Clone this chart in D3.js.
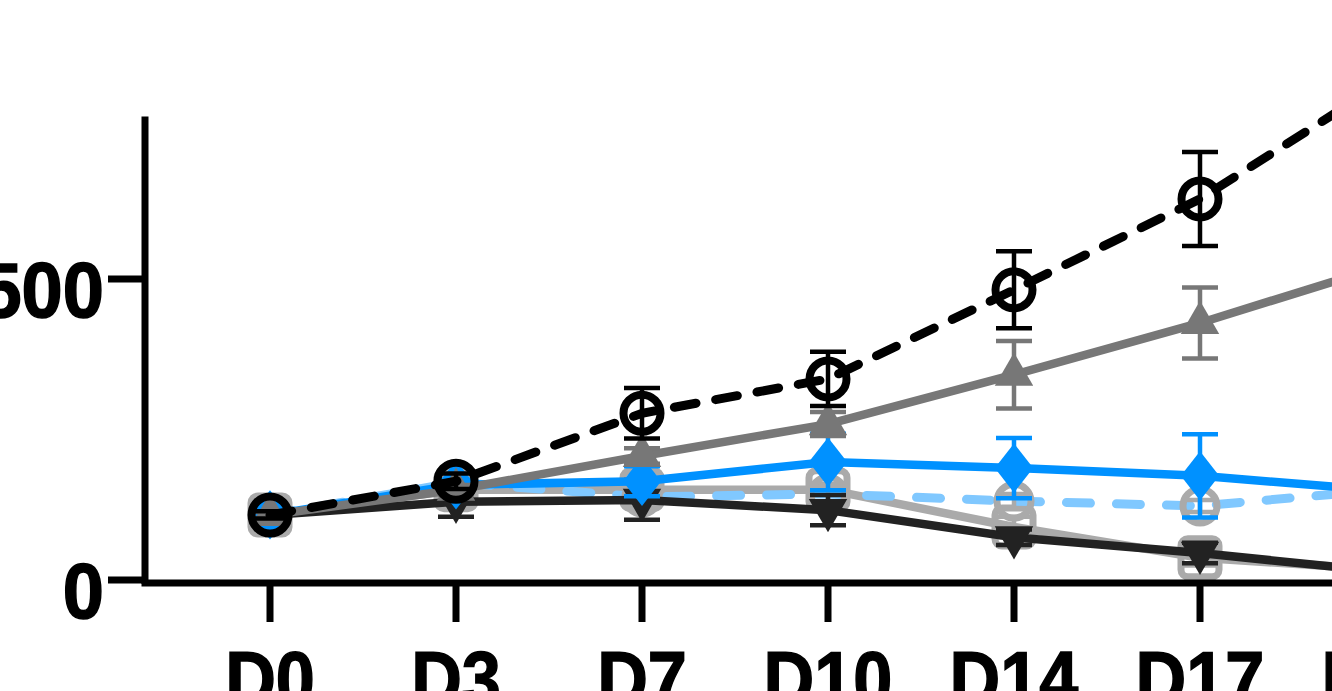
<!DOCTYPE html>
<html><head><meta charset="utf-8">
<script src="https://cdn.jsdelivr.net/npm/d3@7/dist/d3.min.js"></script>
<style>html,body{margin:0;padding:0;background:#fff;overflow:hidden}</style>
</head><body><svg id="c" width="1332" height="691"></svg>
<script>
const days = ["D0","D3","D7","D10","D14","D17","D21"];
const yTicks = [0, 500];
// series values (mean) and error (half-width)
const blackCircle = [108,164,277,334,482,633,829];
const blackCircleErr = [6,13,42,45,64,78,90];
const grayTriangle = [108,150,206,259,341,427,523];
const grayTriangleErr = [5,8,13,20,56,59,66];
const blueDiamond = [108,158,164,196,186,173,148];
const blueDiamondErr = [5,8,25,47,50,69,75];
const lightSquare = [108,150,150,150,88,37,17];
const lightSquareErr = [5,6,8,10,17,13,10];
const grayCircle = [108,162,138,143,131,123,150];
const grayCircleErr = [5,8,10,12,12,10,12];
const darkTriangle = [108,130,133,116,71,45,13];
const darkTriangleErr = [5,25,33,25,13,17,10];

const svg = d3.select("#c");
const x = d3.scalePoint().domain(days).range([270, 1386]);
const y = d3.scaleLinear().domain([0, 770]).range([580, 580 - 770*0.602]);

const series = [
  {v:lightSquare, e:lightSquareErr, line:"#aaaaaa", mk:"#aaaaaa", sym:"square", dash:null, ec:"#aaaaaa"},
  {v:grayCircle, e:grayCircleErr, line:"#80c8ff", mk:"#aaaaaa", sym:"circleOpen", dash:"24,26", ec:"#aaaaaa"},
  {v:darkTriangle, e:darkTriangleErr, line:"#222222", mk:"#222222", sym:"triDown", dash:null, ec:"#222222"},
  {v:blueDiamond, e:blueDiamondErr, line:"#0091ff", mk:"#0091ff", sym:"diamond", dash:null, ec:"#0091ff"},
  {v:grayTriangle, e:grayTriangleErr, line:"#777777", mk:"#777777", sym:"triUp", dash:null, ec:"#777777"},
  {v:blackCircle, e:blackCircleErr, line:"#000000", mk:"#000000", sym:"circleOpenBlack", dash:"22,20", ec:"#000000"}
];

const g = svg.append("g");
series.forEach(s => {
  const pts = days.map((d,i)=>({d, v:s.v[i], e:s.e[i]}));
  g.append("path").datum(pts)
    .attr("d", d3.line().x(p=>x(p.d)).y(p=>y(p.v)))
    .attr("fill","none").attr("stroke", s.line).attr("stroke-width", s.dash?9:8.5)
    .attr("stroke-linecap", s.dash?"round":"butt")
    .attr("stroke-dasharray", s.dash);
  const eb = g.append("g").attr("stroke", s.ec).attr("stroke-width",4.5).attr("fill","none");
  pts.forEach(p=>{
    const cx = x(p.d), t = y(p.v+p.e), b = y(p.v-p.e);
    eb.append("line").attr("x1",cx).attr("x2",cx).attr("y1",t).attr("y2",b);
    eb.append("line").attr("x1",cx-18).attr("x2",cx+18).attr("y1",t).attr("y2",t);
    eb.append("line").attr("x1",cx-18).attr("x2",cx+18).attr("y1",b).attr("y2",b);
  });
  const mg = g.append("g");
  pts.forEach(p=>{
    const cx = x(p.d), cy = y(p.v);
    if (s.sym==="square") {
      mg.append("rect").attr("x",cx-19).attr("y",cy-19).attr("width",38).attr("height",38)
        .attr("rx",7).attr("fill","none").attr("stroke",s.mk).attr("stroke-width",7);
    } else if (s.sym==="circleOpen") {
      mg.append("circle").attr("cx",cx).attr("cy",cy).attr("r",17)
        .attr("fill","none").attr("stroke",s.mk).attr("stroke-width",7);
    } else if (s.sym==="circleOpenBlack") {
      mg.append("circle").attr("cx",cx).attr("cy",cy).attr("r",18.5)
        .attr("fill","none").attr("stroke",s.mk).attr("stroke-width",8);
    } else if (s.sym==="triUp") {
      mg.append("path").attr("d", d3.symbol(d3.symbolTriangle, 640)())
        .attr("transform",`translate(${cx},${cy})`).attr("fill",s.mk);
    } else if (s.sym==="triDown") {
      mg.append("path").attr("d", d3.symbol(d3.symbolTriangle, 640)())
        .attr("transform",`translate(${cx},${cy}) rotate(180)`).attr("fill",s.mk);
    } else if (s.sym==="diamond") {
      mg.append("path").attr("d", d3.symbol(d3.symbolDiamond, 700)())
        .attr("transform",`translate(${cx},${cy}) scale(1.35,1)`).attr("fill",s.mk);
    }
  });
});

// axes
const ax = svg.append("g");
const font = "Liberation Sans, Arial, sans-serif";
ax.append("line").attr("x1",145).attr("x2",145).attr("y1",y(770)).attr("y2",584)
  .attr("stroke","#000").attr("stroke-width",7);
ax.append("line").attr("x1",141.5).attr("x2",1400).attr("y1",y(0)+3).attr("y2",y(0)+3)
  .attr("stroke","#000").attr("stroke-width",7);
yTicks.forEach(t=>{
  ax.append("line").attr("x1",108).attr("x2",145).attr("y1",y(t)).attr("y2",y(t))
    .attr("stroke","#000").attr("stroke-width",7);
  ax.append("text").attr("x",104).attr("y",y(t)+38).attr("text-anchor","end")
    .attr("font-family",font).attr("font-weight","bold")
    .attr("font-size",78).attr("stroke","#000").attr("stroke-width",1.5)
    .attr("transform",`translate(104,0) scale(0.95,1) translate(-104,0)`)
    .text(t);
});
days.forEach(d=>{
  ax.append("line").attr("x1",x(d)).attr("x2",x(d)).attr("y1",583).attr("y2",622)
    .attr("stroke","#000").attr("stroke-width",7);
  ax.append("text").attr("x",x(d)).attr("y",706).attr("text-anchor","middle")
    .attr("font-family",font).attr("font-weight","bold")
    .attr("font-size",78).attr("stroke","#000").attr("stroke-width",1.5)
    .attr("transform",`translate(${x(d)},0) scale(0.9,1) translate(${-x(d)},0)`)
    .text(d);
});
</script></body></html>
